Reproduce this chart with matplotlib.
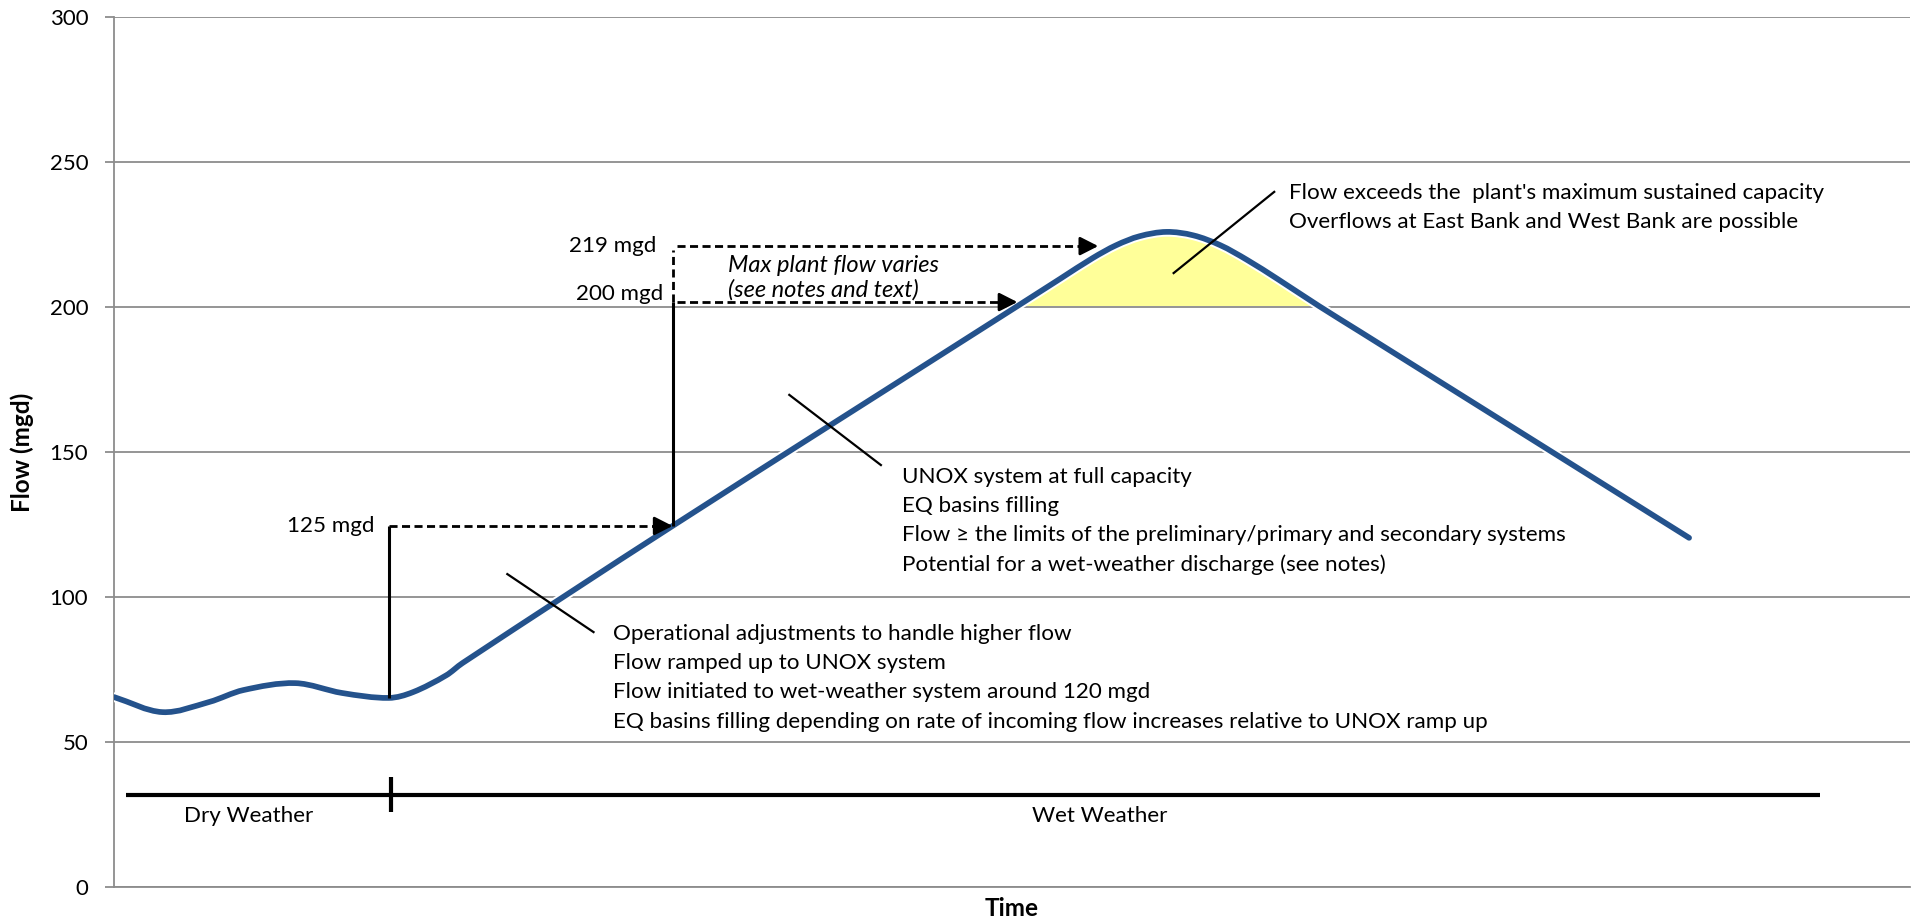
import matplotlib
matplotlib.use("Agg")
import matplotlib.pyplot as plt
from matplotlib.path import Path
from matplotlib.patches import PathPatch, Rectangle
import matplotlib.patheffects as pe

plt.rcParams['font.family'] = ['Lato', 'DejaVu Sans']

# ---- data ----
time = [0.0, 2.7, 5.3, 7.2, 10.1, 12.7, 15.3, 16.65, 18.5, 19.4, 31.1, 50.3,
        52.7, 54.5, 55.8, 57.1, 58.6, 60.1, 61.6, 63.1, 64.8, 67.1, 69.4, 87.7]
flow = [65.5, 60.3, 63.8, 67.9, 70.3, 66.9, 65.2, 67.2, 73.0, 77.2, 124.5, 200.3,
        209.8, 216.9, 221.3, 224.4, 225.9, 224.7, 221.3, 216.2, 209.6, 200.3, 191.4, 120.4]

capacity = 200            # overflow threshold (yellow area above)
lvl_unox = 124.5          # 125 mgd level
lvl_200 = 201.7           # 200 mgd arrow level
lvl_219 = 221.0           # 219 mgd arrow level
x_start_wet = 15.3        # start of wet weather
x_unox_tip = 31.1
x_200_tip = 50.3
x_219_tip = 54.8

level_labels = ["125 mgd", "200 mgd", "219 mgd"]
yticks = [0, 50, 100, 150, 200, 250, 300]

unox_lines = ["UNOX system at full capacity",
              "EQ basins filling",
              "Flow \u2265 the limits of the preliminary/primary and secondary systems",
              "Potential for a wet-weather discharge (see notes)"]
ops_lines = ["Operational adjustments to handle higher flow",
             "Flow ramped up to UNOX system",
             "Flow initiated to wet-weather system around 120 mgd",
             "EQ basins filling depending on rate of incoming flow increases relative to UNOX ramp up"]
peak_lines = ["Flow exceeds the  plant's maximum sustained capacity",
              "Overflows at East Bank and West Bank are possible"]
max_lines = ["Max plant flow varies", "(see notes and text)"]

# ---- figure ----
W, H = 1915, 919
fig = plt.figure(figsize=(W / 100, H / 100), dpi=100)
ax = fig.add_axes([114 / W, 32 / H, (1910 - 114) / W, (887 - 17) / H])
ax.set_xlim(0, 100)
ax.set_ylim(0, 300)

FS = 16.1

grid_c = '#8C8C8C'
ax.set_yticks(yticks)
ax.set_xticks([])
ax.grid(axis='y', color=grid_c, lw=1.3, zorder=0)
ax.set_axisbelow(True)
for s in ['top', 'right']:
    ax.spines[s].set_visible(False)
ax.spines['left'].set_color(grid_c)
ax.spines['left'].set_linewidth(1.3)
ax.spines['bottom'].set_color(grid_c)
ax.spines['bottom'].set_linewidth(1.3)
ax.tick_params(axis='y', length=6.5, width=1.3, color=grid_c, pad=12, labelsize=16)


def smooth_path(xs, ys):
    n = len(xs)
    slopes = []
    for i in range(n):
        a = max(i - 1, 0)
        b = min(i + 1, n - 1)
        slopes.append((ys[b] - ys[a]) / (xs[b] - xs[a]))
    verts = [(xs[0], ys[0])]
    codes = [Path.MOVETO]
    for i in range(n - 1):
        dx = xs[i + 1] - xs[i]
        c1 = (xs[i] + dx / 3, ys[i] + slopes[i] * dx / 3)
        c2 = (xs[i + 1] - dx / 3, ys[i + 1] - slopes[i + 1] * dx / 3)
        verts += [c1, c2, (xs[i + 1], ys[i + 1])]
        codes += [Path.CURVE4] * 3
    return Path(verts, codes)


curve = smooth_path(time, flow)

# yellow overflow area
fill_verts = list(curve.vertices) + [(time[-1], 0), (time[0], 0), (time[0], flow[0])]
fill_codes = list(curve.codes) + [Path.LINETO, Path.LINETO, Path.CLOSEPOLY]
fill = PathPatch(Path(fill_verts, fill_codes), facecolor='#FFFF99', edgecolor='none', zorder=2)
ax.add_patch(fill)
clip = Rectangle((0, capacity + 0.4), 100, 100, transform=ax.transData)
fill.set_clip_path(clip)

line = PathPatch(curve, facecolor='none', edgecolor='#24528C', lw=4.1, zorder=4,
                 capstyle='round', joinstyle='round',
                 path_effects=[pe.Stroke(linewidth=6.9, foreground='white'), pe.Normal()])
ax.add_patch(line)

# ---- level markers ----
kw_solid = dict(color='black', lw=2.2, zorder=5, solid_capstyle='butt')
kw_dash = dict(color='black', lw=2.0, zorder=5, dashes=(2.9, 1.6))
head = dict(arrowstyle='-|>,head_length=0.55,head_width=0.28', color='black', lw=2,
            shrinkA=0, shrinkB=0, mutation_scale=20)

# 125 mgd
ax.plot([x_start_wet, x_start_wet], [65.2, lvl_unox], **kw_solid)
ax.plot([x_start_wet, x_unox_tip - 0.8], [lvl_unox, lvl_unox], **kw_dash)
ax.annotate('', xy=(x_unox_tip, lvl_unox), xytext=(x_unox_tip - 0.8, lvl_unox), arrowprops=head, zorder=6)
ax.text(14.5, lvl_unox, level_labels[0], ha='right', va='center', fontsize=FS)

# 200 mgd / 219 mgd
x_v = x_unox_tip + 0.05
ax.plot([x_v, x_v], [lvl_unox, lvl_200], **kw_solid)
ax.plot([x_v, x_v], [lvl_200, lvl_219 - 1.5], **kw_dash)
ax.plot([x_v + 0.2, x_200_tip - 0.8], [lvl_200, lvl_200], **kw_dash)
ax.annotate('', xy=(x_200_tip, lvl_200), xytext=(x_200_tip - 0.8, lvl_200), arrowprops=head, zorder=6)
ax.plot([x_v + 0.2, x_219_tip - 0.8], [lvl_219, lvl_219], **kw_dash)
ax.annotate('', xy=(x_219_tip, lvl_219), xytext=(x_219_tip - 0.8, lvl_219), arrowprops=head, zorder=6)
ax.text(30.6, 204.5, level_labels[1], ha='right', va='center', fontsize=FS)
ax.text(30.2, lvl_219, level_labels[2], ha='right', va='center', fontsize=FS)

ax.text(34.2, 214.3, max_lines[0], ha='left', va='center', fontsize=17, style='italic')
ax.text(34.2, 206.0, max_lines[1], ha='left', va='center', fontsize=17, style='italic')

# ---- callouts ----
kw_call = dict(color='black', lw=1.6, zorder=6)
ax.plot([21.9, 26.7], [107.9, 87.9], **kw_call)
ax.plot([37.6, 42.7], [169.7, 145.5], **kw_call)
ax.plot([59.0, 64.6], [211.7, 239.7], **kw_call)

for i, t in enumerate(ops_lines):
    ax.text(27.8, 87.3 - i * 10.1, t, ha='left', va='center', fontsize=FS)
for i, t in enumerate(unox_lines):
    ax.text(43.9, 141.3 - i * 10.0, t, ha='left', va='center', fontsize=FS)
for i, t in enumerate(peak_lines):
    ax.text(65.4, 239.3 - i * 10.0, t, ha='left', va='center', fontsize=FS)

# ---- weather timeline ----
ax.plot([0.67, 95.0], [31.7, 31.7], color='black', lw=3, zorder=5, solid_capstyle='butt')
ax.plot([15.4, 15.4], [25.9, 37.9], color='black', lw=3, zorder=5, solid_capstyle='butt')
ax.text(7.5, 24.5, "Dry Weather", ha='center', va='center', fontsize=FS)
ax.text(54.9, 24.5, "Wet Weather", ha='center', va='center', fontsize=FS)

# ---- axis titles ----
fig.text(22 / W, 1 - 452 / H, "Flow (mgd)", rotation=90, ha='center', va='center',
         fontsize=17.5, fontweight='bold')
fig.text(1012 / W, 1 - 908 / H, "Time", ha='center', va='center', fontsize=17.5, fontweight='bold')

fig.savefig("out.png", dpi=100)
